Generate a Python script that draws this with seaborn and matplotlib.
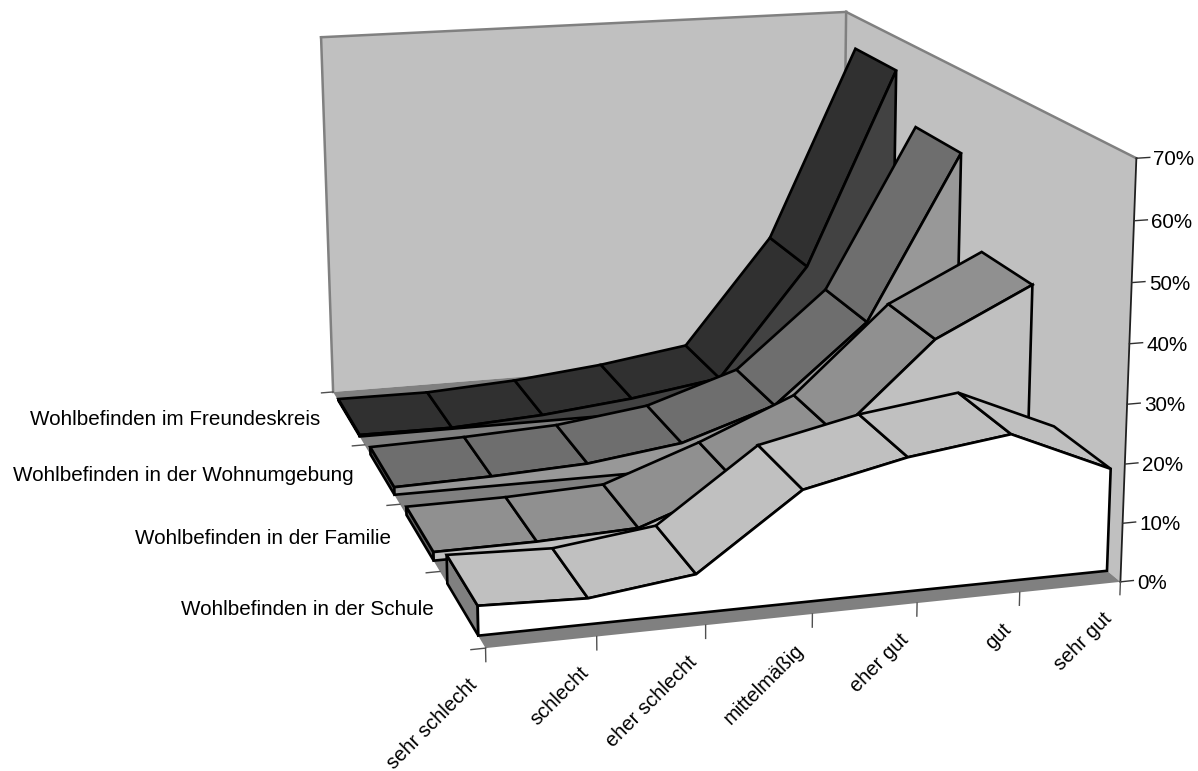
import numpy as np
import seaborn as sns
import matplotlib.pyplot as plt
from matplotlib.transforms import offset_copy
from mpl_toolkits.mplot3d import proj3d
from mpl_toolkits.mplot3d.art3d import Poly3DCollection

categories = ['sehr schlecht', 'schlecht', 'eher schlecht', 'mittelmäßig', 'eher gut', 'gut', 'sehr gut']
series_names = ['Wohlbefinden in der Schule', 'Wohlbefinden in der Familie',
                'Wohlbefinden in der Wohnumgebung', 'Wohlbefinden im Freundeskreis']
schule = [4.9, 4.3, 6.5, 18.8, 22.6, 24.9, 17.5]
familie = [1.5, 1.6, 2.3, 8.5, 15.7, 31.1, 39.4]
wohnumgebung = [1.4, 1.8, 2.6, 4.9, 10.5, 24.8, 55.0]
freundeskreis = [0.3, 0.2, 1.2, 3.0, 5.6, 26.5, 63.7]
z_ticks = [0, 10, 20, 30, 40, 50, 60, 70]

top_colors = ['#c0c0c0', '#909090', '#6e6e6e', '#303030']
front_colors = ['#ffffff', '#c0c0c0', '#989898', '#424242']
side_colors = ['#808080', '#606060', '#4a4a4a', '#202020']

sns.set_theme(style='white')
plt.rcParams['font.family'] = ['Liberation Sans', 'DejaVu Sans']

W, H = 1198, 771
fig = plt.figure(figsize=(W / 100, H / 100), dpi=100)
ax = fig.add_axes([0, 0, 1, 1], projection='3d')
ax.set_axis_off()
ax.computed_zorder = False
ax.apply_aspect = lambda position=None: None

# Excel style camera, fitted to the box corners of the picture (data -> pixels)
camera = np.array([[117.240783, -14.724743, -0.402358, 485.542856],
                   [-5.110678, -36.529485, -6.511489, 648.122343],
                   [0.010202, 0.070198, -0.000567, 1.0]])
vx0, vx1 = ax.viewLim.intervalx
vy0, vy1 = ax.viewLim.intervaly
to_view = np.array([[(vx1 - vx0) / W, 0, vx0], [0, -(vy1 - vy0) / H, vy1], [0, 0, 1]])
q = to_view @ camera
# depth row has to stay negative, lines get clipped otherwise
M = np.vstack([q[0], q[1], [0, -0.05, 0, -0.1], q[2]])
ax.get_proj = lambda: M
ax.M = M

n_cat = len(categories) - 1
n_ser = len(series_names)
top = z_ticks[-1]
y_front, y_back = 0.16, 0.84
order = [0]


def face(verts, color, edge='black', lw=1.9):
    order[0] += 1
    poly = Poly3DCollection([verts], facecolor=color, edgecolor=edge, linewidth=lw,
                            joinstyle='miter', zorder=order[0])
    ax.add_collection3d(poly, autolim=False)


def line(p0, p1, color, lw):
    order[0] += 1
    ax.plot(*zip(p0, p1), color=color, lw=lw, zorder=order[0], solid_capstyle='projecting')


def label(x, y, z, s, dx, dy, size=14.85, **kw):
    px, py, _ = proj3d.proj_transform(x, y, z, M)
    ax.text2D(px, py, s, transform=offset_copy(ax.transData, fig=fig, x=dx, y=dy, units='dots'),
              fontsize=size, color='black', **kw)


# walls and floor
face([(0, n_ser, 0), (n_cat, n_ser, 0), (n_cat, n_ser, top), (0, n_ser, top)], '#c0c0c0', 'none', 0)
face([(n_cat, 0, 0), (n_cat, n_ser, 0), (n_cat, n_ser, top), (n_cat, 0, top)], '#c0c0c0', 'none', 0)
face([(0, 0, 0), (n_cat, 0, 0), (n_cat, n_ser, 0), (0, n_ser, 0)], '#808080', 'none', 0)
line((0, n_ser, 0), (0, n_ser, top), '#808080', 1.8)
line((0, n_ser, top), (n_cat, n_ser, top), '#808080', 1.8)
line((n_cat, n_ser, top), (n_cat, n_ser, 0), '#808080', 1.8)
line((n_cat, n_ser, top), (n_cat, 0, top), '#808080', 1.8)
line((n_cat, 0, 0), (n_cat, 0, top), '#202020', 1.3)

# ticks and labels
for z in z_ticks:
    line((n_cat, 0, z), (n_cat + 0.13, 0, z), '#303030', 1.0)
    label(n_cat, 0, z, f'{z}%', 17, -1.5, ha='left', va='center')
for k, name in enumerate(categories):
    line((k, 0, 0), (k, 0, -2.2), '#505050', 1.0)
    label(k, 0, 0, name, -18, -27, size=14.5, ha='right', va='top', rotation=45, rotation_mode='anchor')
for i in range(n_ser + 1):
    line((0, i, 0), (-0.13, i, 0), '#505050', 1.0)
for i, name in enumerate(series_names):
    label(0, i + 0.5, 0, name, -28, -1.5, ha='right', va='center')

# series from back to front: side, ribbon, front
all_values = [schule, familie, wohnumgebung, freundeskreis]
for i in reversed(range(n_ser)):
    values = all_values[i]
    yf, yb = i + y_front, i + y_back
    face([(0, yf, 0), (0, yb, 0), (0, yb, values[0]), (0, yf, values[0])], side_colors[i])
    for k in range(n_cat):
        face([(k, yf, values[k]), (k + 1, yf, values[k + 1]),
              (k + 1, yb, values[k + 1]), (k, yb, values[k])], top_colors[i])
    outline = [(k, yf, v) for k, v in enumerate(values)]
    face([(0, yf, 0)] + outline + [(n_cat, yf, 0)], front_colors[i])

fig.savefig('out.png', dpi=100)
